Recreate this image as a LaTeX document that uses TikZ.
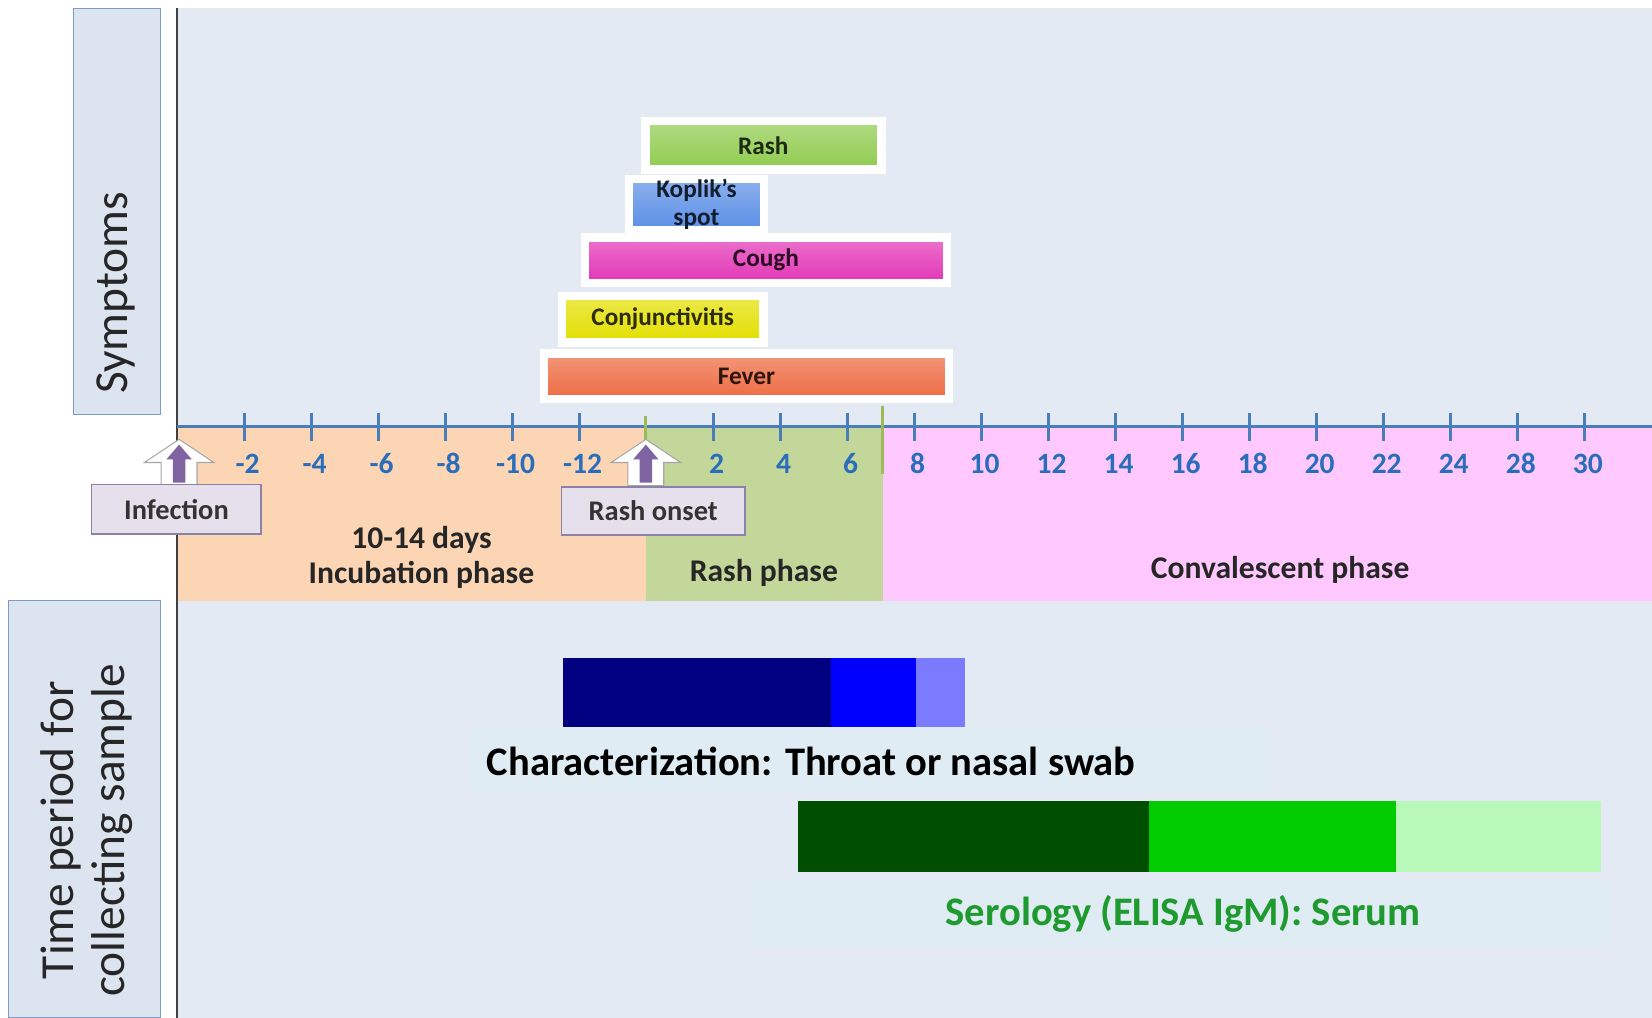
\documentclass[tikz,border=0pt]{standalone}
\usepackage{fontspec}
\setmainfont{Carlito}
\usetikzlibrary{shapes,positioning,shadows}

\definecolor{panelbg}{HTML}{E4EAF4}
\definecolor{sidebg}{HTML}{DCE4F0}
\definecolor{sideline}{HTML}{7F9CC4}
\definecolor{axisblue}{HTML}{4A7EBB}
\definecolor{ticklbl}{HTML}{2A6EBB}
\definecolor{incub}{HTML}{FCD5B5}
\definecolor{rashph}{HTML}{C4D79B}
\definecolor{conval}{HTML}{FFC9FF}
\definecolor{onsetgreen}{HTML}{9BBB59}
\definecolor{lblfill}{HTML}{E6E0EC}
\definecolor{lbldraw}{HTML}{8C82A8}
\definecolor{arrpurple}{HTML}{8064A2}
\definecolor{rashc}{HTML}{8FCB4E}
\definecolor{koplikc}{HTML}{5B8FE6}
\definecolor{coughc}{HTML}{E236B6}
\definecolor{conjc}{HTML}{E3DF00}
\definecolor{feverc}{HTML}{EE6B42}
\definecolor{navyA}{HTML}{000080}
\definecolor{blueB}{HTML}{0000FF}
\definecolor{blueC}{HTML}{7B7BFF}
\definecolor{greenA}{HTML}{004F00}
\definecolor{greenB}{HTML}{00CC00}
\definecolor{greenC}{HTML}{B8F8B8}
\definecolor{serotxt}{HTML}{1F9A2E}
\definecolor{txtbg}{HTML}{DFECF3}

\tikzset{
  symbar/.style={draw=white, line width=8pt, top color=#1!70!white, bottom color=#1,
    inner sep=0pt, text=#1!20!black, font=\fontsize{24}{27}\selectfont\bfseries,
    drop shadow={shadow xshift=2pt, shadow yshift=-3pt, opacity=0.2}},
  sidebox/.style={draw=sideline, fill=sidebg, line width=1pt, inner sep=0pt},
  sidetext/.style={rotate=90, align=center, text=black!85, font=\fontsize{45}{48}\selectfont},
  tickmark/.style={axisblue, line width=3.2pt},
  ticklabel/.style={text=ticklbl, font=\fontsize{28}{30}\selectfont\bfseries},
  tagbox/.style={draw=lbldraw, fill=lblfill, line width=1.5pt, inner sep=0pt,
    text=black!80, font=\fontsize{27}{29}\selectfont\bfseries},
  uparrow/.pic={
    \draw[black!35, fill=white, line width=1pt] (0,0) -- (33,22) -- (17,22) -- (17,44)
      -- (-17,44) -- (-17,22) -- (-33,22) -- cycle;
    \fill[arrpurple] (0,5) -- (12,19) -- (6,19) -- (6,41) -- (-6,41) -- (-6,19) -- (-12,19) -- cycle;
  },
  phasetext/.style={align=center, text=black!85, font=\fontsize{30}{33}\selectfont\bfseries},
  sampletext/.style={font=\fontsize{38.5}{44}\selectfont\bfseries}
}

\begin{document}
\begin{tikzpicture}[x=1pt,y=-1pt]
  \useasboundingbox (0,0) rectangle (1568,966);
  \fill[white] (0,0) rectangle (1568,966);

  % panels and phases
  \fill[panelbg] (168,8) rectangle (1568,405);
  \fill[panelbg] (168,570) rectangle (1568,966);
  \fill[incub] (168,405) rectangle (613,570);
  \fill[rashph] (613,405) rectangle (838,570);
  \fill[conval] (838,405) rectangle (1568,570);

  \node[sidebox, minimum width=82pt, minimum height=385pt] (symbox) at (111,200.5) {};
  \node[sidetext] (symlbl) at (110,278) {Symptoms};
  \node[sidebox, minimum width=144pt, minimum height=396pt] (timebox) at (80,768) {};
  \node[sidetext] (timelbl) at (82,788) {Time period for\\collecting sample};

  \draw[black!75, line width=1.2pt] (168,8) -- (168,966);
  \draw[axisblue, line width=3pt] (168,405) -- (1568,405);

  \foreach \i/\lbl in {0/-2,1/-4,2/-6,3/-8,4/-10,5/-12,7/2,8/4,9/6,10/8,11/10,12/12,
                       13/14,14/16,15/18,16/20,17/22,18/24,19/28,20/30} {
    \draw[tickmark] ({232+63.6*\i},392) -- ({232+63.6*\i},419);
    \node[ticklabel] (t\i) at ({235+63.6*\i},440) {\lbl};
  }
  \draw[onsetgreen, line width=3pt] (613,395) -- (613,430);
  \draw[onsetgreen, line width=3pt] (838,385) -- (838,450);

  % symptoms
  \node[symbar=rashc, minimum width=224pt, minimum height=46pt] (rash) at (724.5,138) {Rash};
  \node[symbar=koplikc, minimum width=128pt, minimum height=48pt, align=center] (koplik) at (661,194) {Koplik's\\spot};
  \node[symbar=coughc, minimum width=344pt, minimum height=43pt] (cough) at (727,247) {Cough};
  \node[symbar=conjc, minimum width=191pt, minimum height=44pt] (conj) at (629,303) {Conjunctivitis};
  \node[symbar=feverc, minimum width=384pt, minimum height=43pt] (fever) at (708.5,357) {Fever};

  % markers
  \pic at (170,417) {uparrow};
  \node[tagbox, minimum width=161pt, minimum height=47pt] (infection) at (167.5,483.5) {Infection};
  \pic at (613,417) {uparrow};
  \node[tagbox, minimum width=174pt, minimum height=46pt] (onset) at (620,485) {Rash onset};

  \node[phasetext] (incubation) at (400,529) {10-14 days\\Incubation phase};
  \node[phasetext] (rashphase) at (725,544) {Rash phase};
  \node[phasetext] (convalescent) at (1215,541) {Convalescent phase};

  % sampling periods
  \fill[navyA] (534,625) rectangle (789,690);
  \fill[blueB] (789,625) rectangle (869,690);
  \fill[blueC] (869,625) rectangle (916,690);
  \fill[txtbg] (445,690) rectangle (1205,752);
  \node[sampletext] (swab) at (770,723) {Characterization: Throat or nasal swab};

  \fill[greenA] (757,760) rectangle (1091,828);
  \fill[greenB] (1091,760) rectangle (1325,828);
  \fill[greenC] (1325,760) rectangle (1520,828);
  \fill[txtbg] (715,835) rectangle (1530,900);
  \node[sampletext, text=serotxt] (serum) at (1123,867) {Serology (ELISA IgM): Serum};
\end{tikzpicture}
\end{document}
